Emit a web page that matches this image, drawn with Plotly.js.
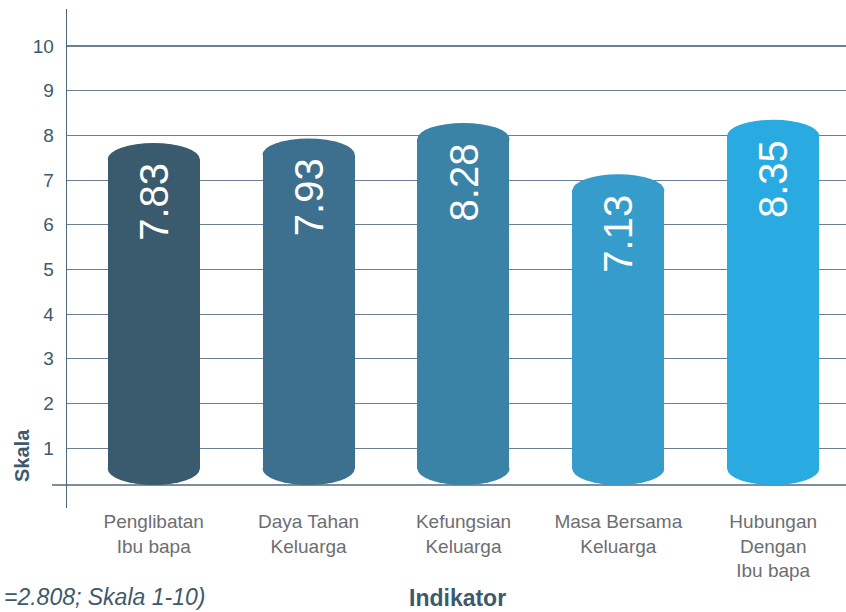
<!DOCTYPE html>
<html><head><meta charset="utf-8">
<script src="https://cdn.plot.ly/plotly-3.0.1.min.js"></script>
<style>html,body{margin:0;padding:0;background:#fff}#chart{width:846px;height:612px}</style>
</head><body><div id="chart"></div>
<script>
// ---- data ----
const categories = ["Penglibatan<br>Ibu bapa", "Daya Tahan<br>Keluarga", "Kefungsian<br>Keluarga", "Masa Bersama<br>Keluarga", "Hubungan<br>Dengan<br>Ibu bapa"];
const values = [7.83, 7.93, 8.28, 7.13, 8.35];
const valueLabels = ["7.83", "7.93", "8.28", "7.13", "8.35"];
const barColors = ["#3a5a6e", "#3d708f", "#3a83a6", "#369ccb", "#29aae1"];
const yTicks = [1, 2, 3, 4, 5, 6, 7, 8, 9, 10];
const yTitle = "Skala";
const xTitle = "Indikator";
const footnote = "=2.808; Skala 1-10)";

// ---- layout geometry ----
const W = 846, H = 612, M = {l: 67, r: 0, t: 9, b: 104};
const yRange = [-0.34, 10.83], xRange = [-0.56, 4.47];
const plotW = W - M.l - M.r, plotH = H - M.t - M.b;
const pxPerUnit = plotH / (yRange[1] - yRange[0]);
const capPx = 16;
const capData = capPx / pxPerUnit;
const baseFrac = 23 / plotH;
const baseY = yRange[0] + baseFrac * (yRange[1] - yRange[0]);
const barW = 0.594;
const FONT = "Liberation Sans, Arial, Helvetica, sans-serif";
const AXC = "#3d5a6c";

const bodyBase = baseY + capData;
const trace = {
  type: "bar",
  x: categories,
  y: values.map(v => (v - capData) - bodyBase),
  base: categories.map(() => bodyBase),
  width: barW,
  marker: {color: barColors, line: {width: 0}},
  hoverinfo: "skip",
  showlegend: false
};

const shapes = [{
  type: "line", xref: "paper", yref: "paper", layer: "below",
  x0: -15 / plotW, x1: 1, y0: baseFrac, y1: baseFrac,
  line: {color: "#4f6878", width: 1.3}
}];
values.forEach((v, i) => {
  [v - capData, bodyBase].forEach(anchor => {
    shapes.push({
      type: "circle", xref: "x", yref: "y", layer: "above",
      x0: i - barW / 2, x1: i + barW / 2,
      ysizemode: "pixel", yanchor: anchor, y0: -capPx, y1: capPx,
      fillcolor: barColors[i], line: {width: 0}
    });
  });
});

const annotations = values.map((v, i) => ({
  xref: "x", yref: "y", x: categories[i], y: v,
  text: valueLabels[i], showarrow: false, textangle: -90,
  xanchor: "center", yanchor: "top", yshift: -18,
  font: {family: FONT, size: 40, color: "#ffffff"}
}));
annotations.push({
  xref: "paper", yref: "paper", x: (22 - M.l) / plotW, y: (H - M.b - 456) / plotH,
  text: "<b>" + yTitle + "</b>", showarrow: false, textangle: -90,
  xanchor: "center", yanchor: "middle",
  font: {family: FONT, size: 20, color: AXC}
});
annotations.push({
  xref: "paper", yref: "paper", x: (457 - M.l) / plotW, y: (H - M.b - 598) / plotH,
  text: "<b>" + xTitle + "</b>", showarrow: false,
  xanchor: "center", yanchor: "middle",
  font: {family: FONT, size: 23, color: AXC}
});
annotations.push({
  xref: "paper", yref: "paper", x: (2 - M.l) / plotW, y: (H - M.b - 597) / plotH,
  text: "<i>" + footnote + "</i>", showarrow: false,
  xanchor: "left", yanchor: "middle",
  font: {family: FONT, size: 23, color: AXC}
});

const layout = {
  width: W, height: H,
  margin: M,
  paper_bgcolor: "#ffffff", plot_bgcolor: "#ffffff",
  font: {family: FONT},
  bargap: 0,
  xaxis: {
    type: "category", range: xRange, showgrid: false, zeroline: false, showline: false,
    ticks: "", tickfont: {family: FONT, size: 19, color: "#6d6e71"}, fixedrange: true
  },
  yaxis: {
    range: yRange, tickvals: yTicks, showline: true, linecolor: "#4f6878", linewidth: 1.3,
    showgrid: true, gridcolor: "#6a8090", gridwidth: 1.2, zeroline: false,
    ticks: "", ticklabelstandoff: 8, tickfont: {family: FONT, size: 19, color: AXC}, fixedrange: true
  },
  shapes: shapes,
  annotations: annotations
};

Plotly.newPlot("chart", [trace], layout, {staticPlot: true, displayModeBar: false});
</script>
</body></html>
